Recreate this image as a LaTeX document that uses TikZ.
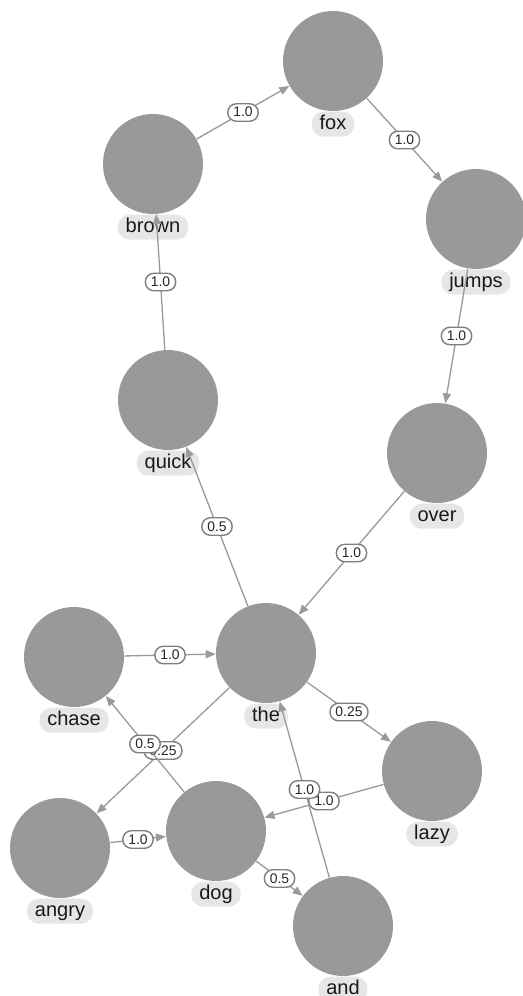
\documentclass[tikz,border=0pt]{standalone}
\usepackage{fontspec}
\setmainfont{Liberation Sans}
\usetikzlibrary{arrows.meta}
\definecolor{nodegray}{HTML}{999999}
\definecolor{labelgray}{HTML}{E6E6E6}
\definecolor{edgegray}{HTML}{9A9A9A}
\definecolor{boxgray}{HTML}{7F7F7F}
\tikzset{
  word/.style={circle, fill=nodegray, minimum size=2cm, inner sep=0pt,
    label={[wordlabel]below:#1}},
  wordlabel/.style={fill=labelgray, rounded corners=0.24cm, inner xsep=0.16cm,
    inner ysep=0pt, minimum height=0.5cm, text height=0.28cm, text depth=0.07cm,
    text=black!90, font=\fontsize{11.4}{13}\selectfont, label distance=0pt},
  link/.style={draw=edgegray, line width=0.75pt, -{Triangle[length=0.2cm,width=0.16cm]}},
  weight/.style={midway, fill=white, draw=boxgray, line width=0.8pt,
    rounded corners=0.17cm, inner xsep=0.11cm, inner ysep=0pt, minimum height=0.35cm,
    text height=0.2cm, text depth=0.02cm, text=black!85, font=\fontsize{7.9}{9}\selectfont}
}
\begin{document}
\begin{tikzpicture}[x=0.02cm, y=-0.02cm]
	\useasboundingbox (0,0) rectangle (522,996);

	% Words
	\node[word=fox] (fox) at (333,61) {};
	\node[word=brown] (brown) at (153,164) {};
	\node[word=jumps] (jumps) at (476,219) {};
	\node[word=quick] (quick) at (168,400) {};
	\node[word=over] (over) at (437,453) {};
	\node[word=chase] (chase) at (74,657) {};
	\node[word=the] (the) at (266,653) {};
	\node[word=lazy] (lazy) at (432,771) {};
	\node[word=angry] (angry) at (60,848) {};
	\node[word=dog] (dog) at (216,831) {};
	\node[word=and] (and) at (343,926) {};

	% Upper loop
	\draw[link] (brown) -- node[weight] {1.0} (fox);
	\draw[link] (fox) -- node[weight] {1.0} (jumps);
	\draw[link] (jumps) -- node[weight] {1.0} (over);
	\draw[link] (quick) -- node[weight] {1.0} (brown);
	\draw[link] (over) -- node[weight] {1.0} (the);
	\draw[link] (the) -- node[weight] {0.5} (quick);

	% Lower part
	\draw[link] (chase) -- node[weight] {1.0} (the);
	\draw[link] (the) -- node[weight] {0.25} (lazy);
	\draw[link] (the) -- node[weight] {0.25} (angry);
	\draw[link] (dog) -- node[weight] {0.5} (chase);
	\draw[link] (lazy) -- node[weight] {1.0} (dog);
	\draw[link] (and) -- node[weight] {1.0} (the);
	\draw[link] (angry) -- node[weight] {1.0} (dog);
	\draw[link] (dog) -- node[weight] {0.5} (and);
\end{tikzpicture}
\end{document}
